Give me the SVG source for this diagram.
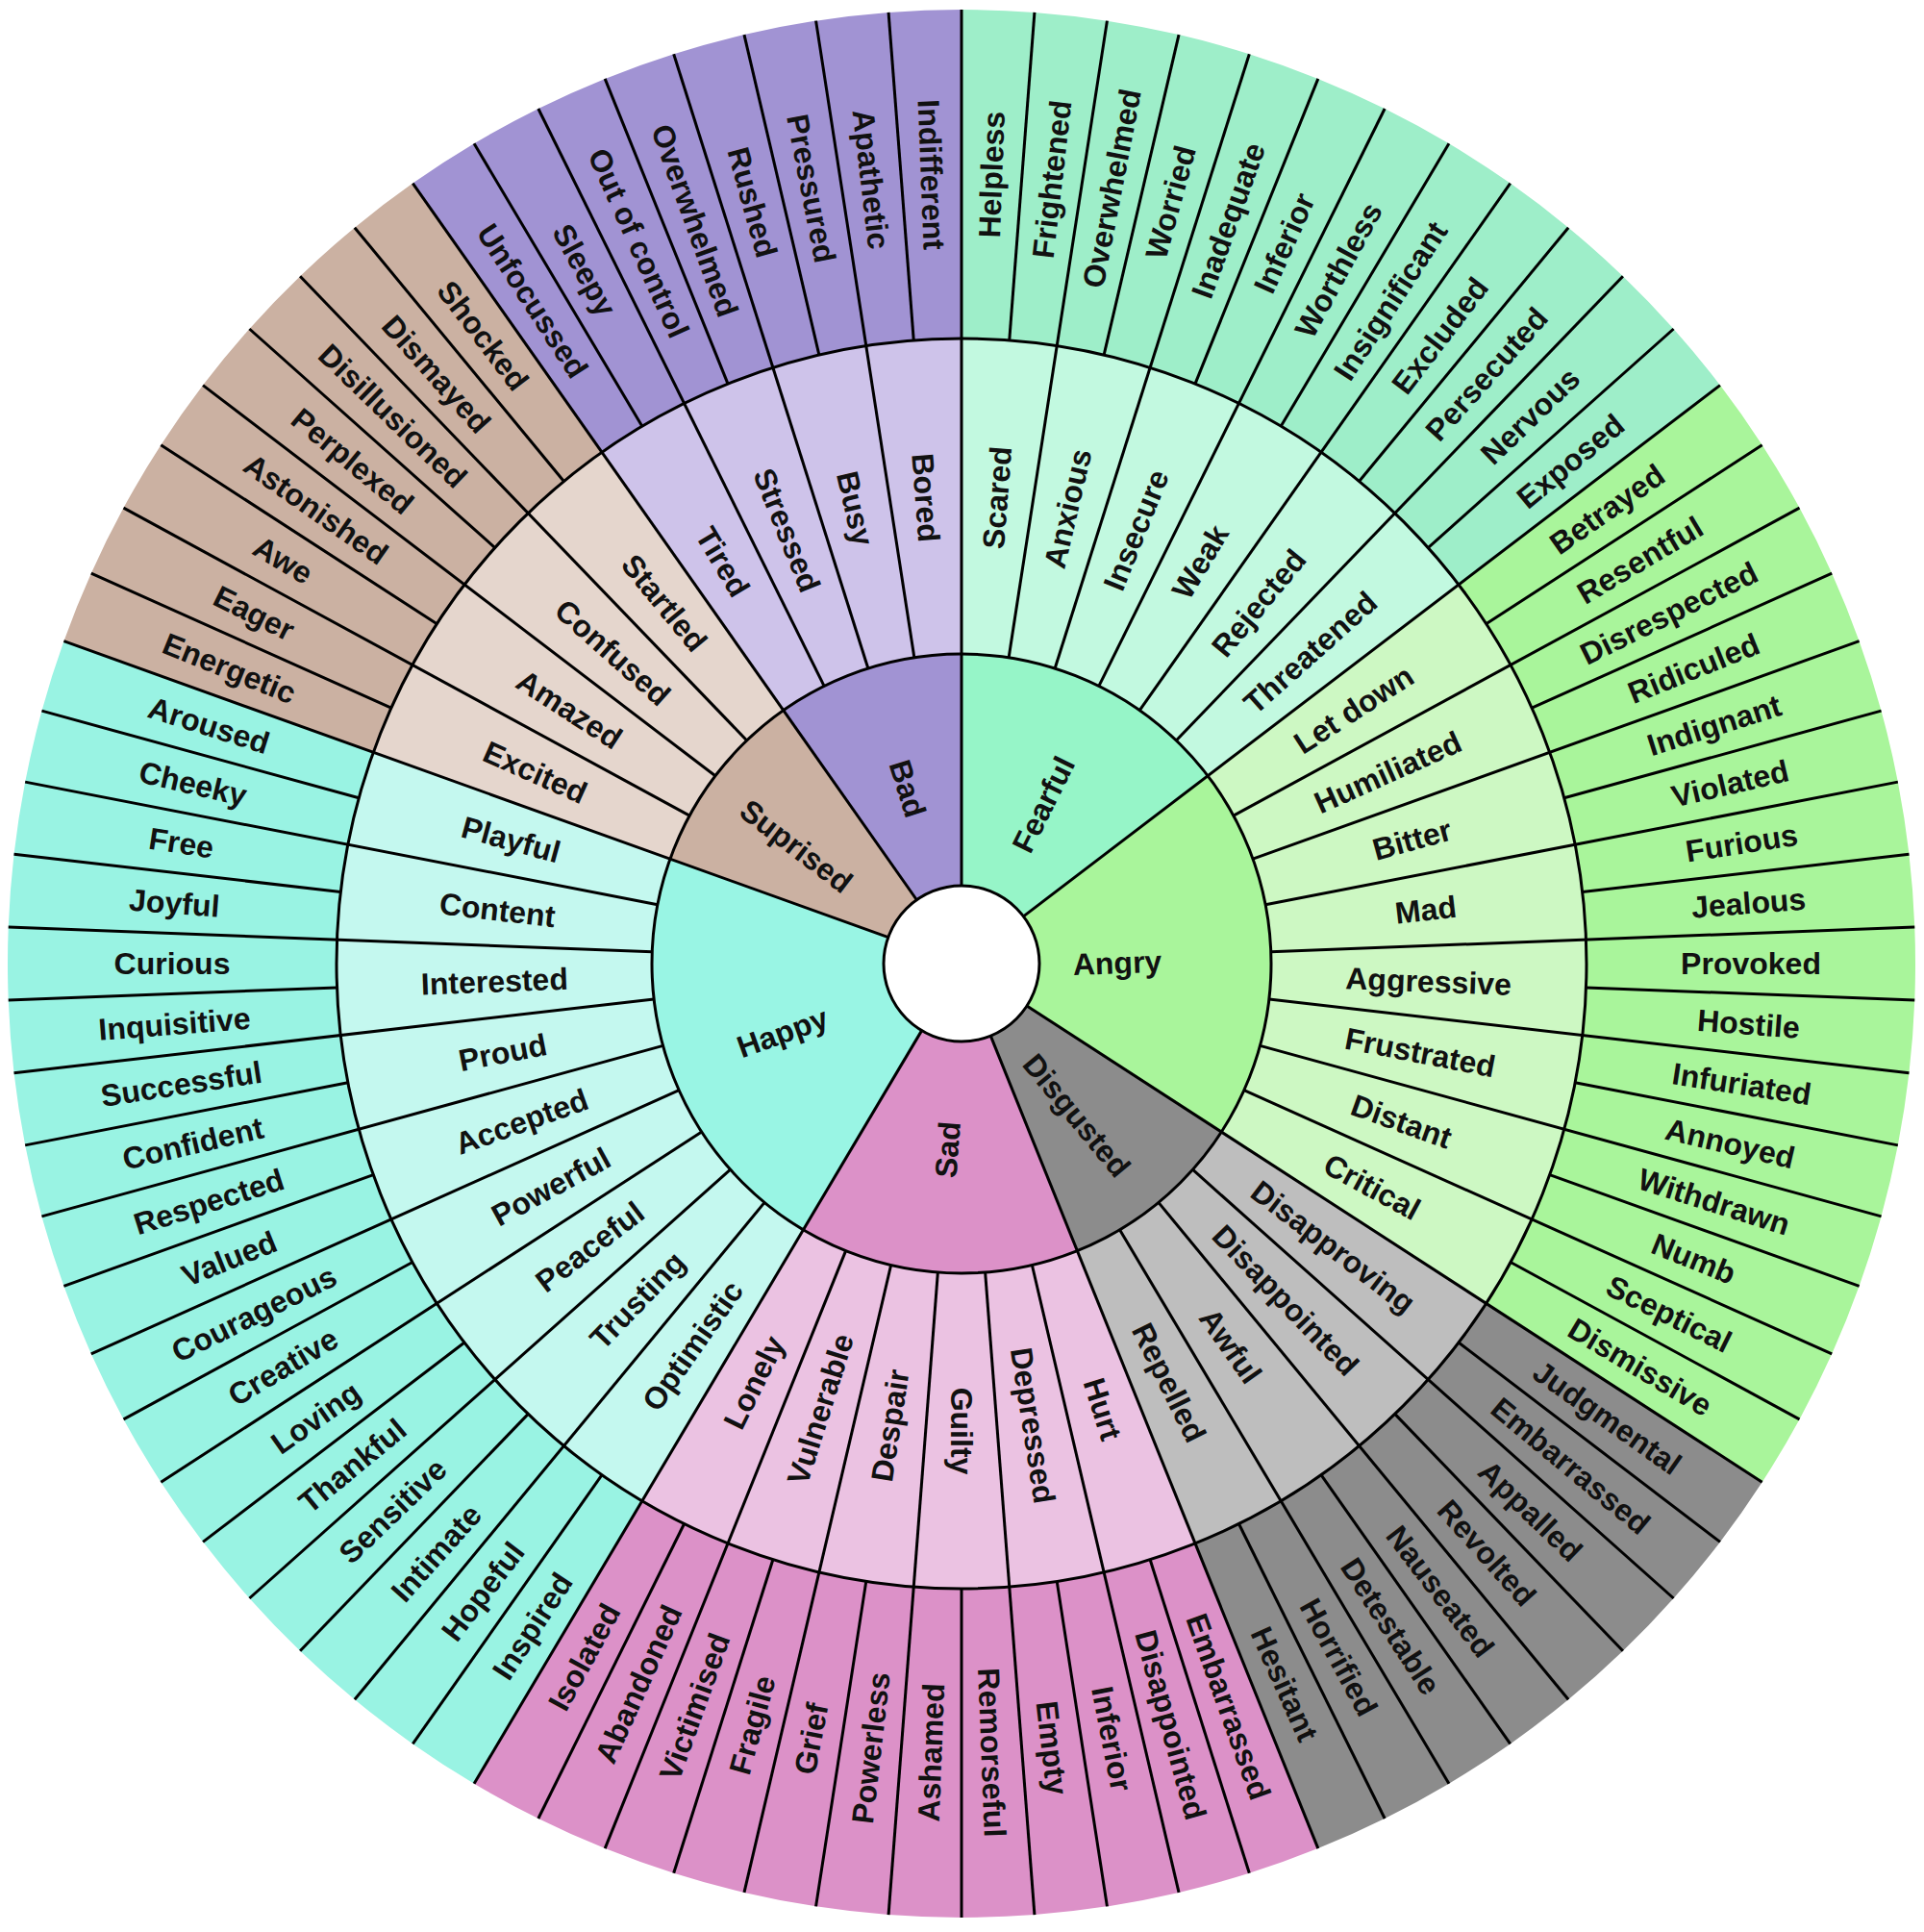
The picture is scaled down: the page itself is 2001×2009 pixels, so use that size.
<svg xmlns="http://www.w3.org/2000/svg" xmlns:xlink="http://www.w3.org/1999/xlink" width="2001" height="2009" viewBox="0 0 2001 2009">
<style>
.t{font-family:"Liberation Sans",Arial,sans-serif;font-weight:bold;font-size:32px;fill:#111;text-anchor:middle;dominant-baseline:central}
.Fc{fill:#96f5c8}.Fm{fill:#c2f9e0}.Fo{fill:#9eeec9}
.Ac{fill:#a9f59b}.Am{fill:#cdf8c3}.Ao{fill:#a9f59b}
.Dc{fill:#8c8c8c}.Dm{fill:#bebebe}.Do{fill:#8c8c8c}
.Sc{fill:#dc91c8}.Sm{fill:#ebc2e2}.So{fill:#dc91c8}
.Hc{fill:#99f5e4}.Hm{fill:#c4f8ef}.Ho{fill:#99f3e3}
.Uc{fill:#cbb1a2}.Um{fill:#e5d6cd}.Uo{fill:#cbb1a2}
.Bc{fill:#a193d3}.Bm{fill:#cec3ea}.Bo{fill:#a193d3}
</style>
<defs>
<path id="o" d="M0,-992 A992,992 0 0 1 75.94,-989.09 L49.76,-648.09 A650,650 0 0 0 0,-650Z"/>
<path id="m" d="M0,-650 A650,650 0 0 1 99.22,-642.38 L49.15,-318.23 A322,322 0 0 0 0,-322Z"/>
<path id="c8" d="M0,0 L0,-322 A322,322 0 0 1 185.25,-263.37Z"/>
<path id="c12" d="M0,0 L0,-322 A322,322 0 0 1 256.08,-195.20Z"/>
<path id="c16" d="M0,0 L0,-322 A322,322 0 0 1 303.05,-108.84Z"/>
<path id="c18" d="M0,0 L0,-322 A322,322 0 0 1 316.11,-61.31Z"/>
<line id="l1" x1="0" y1="-650" x2="0" y2="-992"/>
<line id="l2" x1="0" y1="-322" x2="0" y2="-992"/>
<line id="l3" x1="0" y1="-81" x2="0" y2="-992"/>
</defs>
<rect width="2001" height="2009" fill="#fff"/>
<g transform="translate(1000,1002)">
<g id="core">
<g id="c-fearful"><use href="#c12" class="Fc" transform="rotate(0)"/><text class="t" transform="translate(85.3,-165.4) rotate(-63.66)">Fearful</text></g>
<g id="c-angry"><use href="#c16" class="Ac" transform="rotate(52.6829)"/><text class="t" transform="translate(162,-0.7) rotate(-2.2)">Angry</text></g>
<g id="c-disgusted"><use href="#c8" class="Dc" transform="rotate(122.9268)"/><text class="t" transform="translate(119.6,157.8) rotate(50.49)">Disgusted</text></g>
<g id="c-sad"><use href="#c12" class="Sc" transform="rotate(158.0488)"/><text class="t" transform="translate(-14.3,193.5) rotate(-85.61)">Sad</text></g>
<g id="c-happy"><use href="#c18" class="Hc" transform="rotate(210.7317)"/><text class="t" transform="translate(-186.2,71.7) rotate(-19.76)">Happy</text></g>
<g id="c-surprised"><use href="#c8" class="Uc" transform="rotate(289.7561)"/><text class="t" transform="translate(-172,-122) rotate(37.32)">Suprised</text></g>
<g id="c-bad"><use href="#c8" class="Bc" transform="rotate(324.878)"/><text class="t" transform="translate(-56.2,-182) rotate(72.44)">Bad</text></g>
</g>
<g id="middle">
<g id="m-fearful-scared"><use href="#m" class="Fm" transform="rotate(0)"/><text class="t" transform="rotate(4.3902) translate(0,-486) rotate(-90)">Scared</text></g>
<g id="m-fearful-anxious"><use href="#m" class="Fm" transform="rotate(8.7805)"/><text class="t" transform="rotate(13.1707) translate(0,-486) rotate(-90)">Anxious</text></g>
<g id="m-fearful-insecure"><use href="#m" class="Fm" transform="rotate(17.561)"/><text class="t" transform="rotate(21.9512) translate(0,-486) rotate(-90)">Insecure</text></g>
<g id="m-fearful-weak"><use href="#m" class="Fm" transform="rotate(26.3415)"/><text class="t" transform="rotate(30.7317) translate(0,-486) rotate(-90)">Weak</text></g>
<g id="m-fearful-rejected"><use href="#m" class="Fm" transform="rotate(35.122)"/><text class="t" transform="rotate(39.5122) translate(0,-486) rotate(-90)">Rejected</text></g>
<g id="m-fearful-threatened"><use href="#m" class="Fm" transform="rotate(43.9024)"/><text class="t" transform="rotate(48.2927) translate(0,-486) rotate(-90)">Threatened</text></g>
<g id="m-angry-let-down"><use href="#m" class="Am" transform="rotate(52.6829)"/><text class="t" transform="rotate(57.0732) translate(0,-486) rotate(-90)">Let down</text></g>
<g id="m-angry-humiliated"><use href="#m" class="Am" transform="rotate(61.4634)"/><text class="t" transform="rotate(65.8537) translate(0,-486) rotate(-90)">Humiliated</text></g>
<g id="m-angry-bitter"><use href="#m" class="Am" transform="rotate(70.2439)"/><text class="t" transform="rotate(74.6341) translate(0,-486) rotate(-90)">Bitter</text></g>
<g id="m-angry-mad"><use href="#m" class="Am" transform="rotate(79.0244)"/><text class="t" transform="rotate(83.4146) translate(0,-486) rotate(-90)">Mad</text></g>
<g id="m-angry-aggressive"><use href="#m" class="Am" transform="rotate(87.8049)"/><text class="t" transform="rotate(92.1951) translate(0,-486) rotate(-90)">Aggressive</text></g>
<g id="m-angry-frustrated"><use href="#m" class="Am" transform="rotate(96.5854)"/><text class="t" transform="rotate(100.9756) translate(0,-486) rotate(-90)">Frustrated</text></g>
<g id="m-angry-distant"><use href="#m" class="Am" transform="rotate(105.3659)"/><text class="t" transform="rotate(109.7561) translate(0,-486) rotate(-90)">Distant</text></g>
<g id="m-angry-critical"><use href="#m" class="Am" transform="rotate(114.1463)"/><text class="t" transform="rotate(118.5366) translate(0,-486) rotate(-90)">Critical</text></g>
<g id="m-disgusted-disapproving"><use href="#m" class="Dm" transform="rotate(122.9268)"/><text class="t" transform="rotate(127.3171) translate(0,-486) rotate(-90)">Disapproving</text></g>
<g id="m-disgusted-disappointed"><use href="#m" class="Dm" transform="rotate(131.7073)"/><text class="t" transform="rotate(136.0976) translate(0,-486) rotate(-90)">Disappointed</text></g>
<g id="m-disgusted-awful"><use href="#m" class="Dm" transform="rotate(140.4878)"/><text class="t" transform="rotate(144.878) translate(0,-486) rotate(-90)">Awful</text></g>
<g id="m-disgusted-repelled"><use href="#m" class="Dm" transform="rotate(149.2683)"/><text class="t" transform="rotate(153.6585) translate(0,-486) rotate(-90)">Repelled</text></g>
<g id="m-sad-hurt"><use href="#m" class="Sm" transform="rotate(158.0488)"/><text class="t" transform="rotate(162.439) translate(0,-486) rotate(-90)">Hurt</text></g>
<g id="m-sad-depressed"><use href="#m" class="Sm" transform="rotate(166.8293)"/><text class="t" transform="rotate(171.2195) translate(0,-486) rotate(-90)">Depressed</text></g>
<g id="m-sad-guilty"><use href="#m" class="Sm" transform="rotate(175.6098)"/><text class="t" transform="rotate(180) translate(0,-486) rotate(-90)">Guilty</text></g>
<g id="m-sad-despair"><use href="#m" class="Sm" transform="rotate(184.3902)"/><text class="t" transform="rotate(188.7805) translate(0,-486) rotate(90)">Despair</text></g>
<g id="m-sad-vulnerable"><use href="#m" class="Sm" transform="rotate(193.1707)"/><text class="t" transform="rotate(197.561) translate(0,-486) rotate(90)">Vulnerable</text></g>
<g id="m-sad-lonely"><use href="#m" class="Sm" transform="rotate(201.9512)"/><text class="t" transform="rotate(206.3415) translate(0,-486) rotate(90)">Lonely</text></g>
<g id="m-happy-optimistic"><use href="#m" class="Hm" transform="rotate(210.7317)"/><text class="t" transform="rotate(215.122) translate(0,-486) rotate(90)">Optimistic</text></g>
<g id="m-happy-trusting"><use href="#m" class="Hm" transform="rotate(219.5122)"/><text class="t" transform="rotate(223.9024) translate(0,-486) rotate(90)">Trusting</text></g>
<g id="m-happy-peaceful"><use href="#m" class="Hm" transform="rotate(228.2927)"/><text class="t" transform="rotate(232.6829) translate(0,-486) rotate(90)">Peaceful</text></g>
<g id="m-happy-powerful"><use href="#m" class="Hm" transform="rotate(237.0732)"/><text class="t" transform="rotate(241.4634) translate(0,-486) rotate(90)">Powerful</text></g>
<g id="m-happy-accepted"><use href="#m" class="Hm" transform="rotate(245.8537)"/><text class="t" transform="rotate(250.2439) translate(0,-486) rotate(90)">Accepted</text></g>
<g id="m-happy-proud"><use href="#m" class="Hm" transform="rotate(254.6341)"/><text class="t" transform="rotate(259.0244) translate(0,-486) rotate(90)">Proud</text></g>
<g id="m-happy-interested"><use href="#m" class="Hm" transform="rotate(263.4146)"/><text class="t" transform="rotate(267.8049) translate(0,-486) rotate(90)">Interested</text></g>
<g id="m-happy-content"><use href="#m" class="Hm" transform="rotate(272.1951)"/><text class="t" transform="rotate(276.5854) translate(0,-486) rotate(90)">Content</text></g>
<g id="m-happy-playful"><use href="#m" class="Hm" transform="rotate(280.9756)"/><text class="t" transform="rotate(285.3659) translate(0,-486) rotate(90)">Playful</text></g>
<g id="m-surprised-excited"><use href="#m" class="Um" transform="rotate(289.7561)"/><text class="t" transform="rotate(294.1463) translate(0,-486) rotate(90)">Excited</text></g>
<g id="m-surprised-amazed"><use href="#m" class="Um" transform="rotate(298.5366)"/><text class="t" transform="rotate(302.9268) translate(0,-486) rotate(90)">Amazed</text></g>
<g id="m-surprised-confused"><use href="#m" class="Um" transform="rotate(307.3171)"/><text class="t" transform="rotate(311.7073) translate(0,-486) rotate(90)">Confused</text></g>
<g id="m-surprised-startled"><use href="#m" class="Um" transform="rotate(316.0976)"/><text class="t" transform="rotate(320.4878) translate(0,-486) rotate(90)">Startled</text></g>
<g id="m-bad-tired"><use href="#m" class="Bm" transform="rotate(324.878)"/><text class="t" transform="rotate(329.2683) translate(0,-486) rotate(90)">Tired</text></g>
<g id="m-bad-stressed"><use href="#m" class="Bm" transform="rotate(333.6585)"/><text class="t" transform="rotate(338.0488) translate(0,-486) rotate(90)">Stressed</text></g>
<g id="m-bad-busy"><use href="#m" class="Bm" transform="rotate(342.439)"/><text class="t" transform="rotate(346.8293) translate(0,-486) rotate(90)">Busy</text></g>
<g id="m-bad-bored"><use href="#m" class="Bm" transform="rotate(351.2195)"/><text class="t" transform="rotate(355.6098) translate(0,-486) rotate(90)">Bored</text></g>
</g>
<g id="outer">
<g id="o-fearful-helpless"><use href="#o" class="Fo" transform="rotate(0)"/><text class="t" transform="rotate(2.1951) translate(0,-821) rotate(-90)">Helpless</text></g>
<g id="o-fearful-frightened"><use href="#o" class="Fo" transform="rotate(4.3902)"/><text class="t" transform="rotate(6.5854) translate(0,-821) rotate(-90)">Frightened</text></g>
<g id="o-fearful-overwhelmed"><use href="#o" class="Fo" transform="rotate(8.7805)"/><text class="t" transform="rotate(10.9756) translate(0,-821) rotate(-90)">Overwhelmed</text></g>
<g id="o-fearful-worried"><use href="#o" class="Fo" transform="rotate(13.1707)"/><text class="t" transform="rotate(15.3659) translate(0,-821) rotate(-90)">Worried</text></g>
<g id="o-fearful-inadequate"><use href="#o" class="Fo" transform="rotate(17.561)"/><text class="t" transform="rotate(19.7561) translate(0,-821) rotate(-90)">Inadequate</text></g>
<g id="o-fearful-inferior"><use href="#o" class="Fo" transform="rotate(21.9512)"/><text class="t" transform="rotate(24.1463) translate(0,-821) rotate(-90)">Inferior</text></g>
<g id="o-fearful-worthless"><use href="#o" class="Fo" transform="rotate(26.3415)"/><text class="t" transform="rotate(28.5366) translate(0,-821) rotate(-90)">Worthless</text></g>
<g id="o-fearful-insignificant"><use href="#o" class="Fo" transform="rotate(30.7317)"/><text class="t" transform="rotate(32.9268) translate(0,-821) rotate(-90)">Insignificant</text></g>
<g id="o-fearful-excluded"><use href="#o" class="Fo" transform="rotate(35.122)"/><text class="t" transform="rotate(37.3171) translate(0,-821) rotate(-90)">Excluded</text></g>
<g id="o-fearful-persecuted"><use href="#o" class="Fo" transform="rotate(39.5122)"/><text class="t" transform="rotate(41.7073) translate(0,-821) rotate(-90)">Persecuted</text></g>
<g id="o-fearful-nervous"><use href="#o" class="Fo" transform="rotate(43.9024)"/><text class="t" transform="rotate(46.0976) translate(0,-821) rotate(-90)">Nervous</text></g>
<g id="o-fearful-exposed"><use href="#o" class="Fo" transform="rotate(48.2927)"/><text class="t" transform="rotate(50.4878) translate(0,-821) rotate(-90)">Exposed</text></g>
<g id="o-angry-betrayed"><use href="#o" class="Ao" transform="rotate(52.6829)"/><text class="t" transform="rotate(54.878) translate(0,-821) rotate(-90)">Betrayed</text></g>
<g id="o-angry-resentful"><use href="#o" class="Ao" transform="rotate(57.0732)"/><text class="t" transform="rotate(59.2683) translate(0,-821) rotate(-90)">Resentful</text></g>
<g id="o-angry-disrespected"><use href="#o" class="Ao" transform="rotate(61.4634)"/><text class="t" transform="rotate(63.6585) translate(0,-821) rotate(-90)">Disrespected</text></g>
<g id="o-angry-ridiculed"><use href="#o" class="Ao" transform="rotate(65.8537)"/><text class="t" transform="rotate(68.0488) translate(0,-821) rotate(-90)">Ridiculed</text></g>
<g id="o-angry-indignant"><use href="#o" class="Ao" transform="rotate(70.2439)"/><text class="t" transform="rotate(72.439) translate(0,-821) rotate(-90)">Indignant</text></g>
<g id="o-angry-violated"><use href="#o" class="Ao" transform="rotate(74.6341)"/><text class="t" transform="rotate(76.8293) translate(0,-821) rotate(-90)">Violated</text></g>
<g id="o-angry-furious"><use href="#o" class="Ao" transform="rotate(79.0244)"/><text class="t" transform="rotate(81.2195) translate(0,-821) rotate(-90)">Furious</text></g>
<g id="o-angry-jealous"><use href="#o" class="Ao" transform="rotate(83.4146)"/><text class="t" transform="rotate(85.6098) translate(0,-821) rotate(-90)">Jealous</text></g>
<g id="o-angry-provoked"><use href="#o" class="Ao" transform="rotate(87.8049)"/><text class="t" transform="rotate(90) translate(0,-821) rotate(-90)">Provoked</text></g>
<g id="o-angry-hostile"><use href="#o" class="Ao" transform="rotate(92.1951)"/><text class="t" transform="rotate(94.3902) translate(0,-821) rotate(-90)">Hostile</text></g>
<g id="o-angry-infuriated"><use href="#o" class="Ao" transform="rotate(96.5854)"/><text class="t" transform="rotate(98.7805) translate(0,-821) rotate(-90)">Infuriated</text></g>
<g id="o-angry-annoyed"><use href="#o" class="Ao" transform="rotate(100.9756)"/><text class="t" transform="rotate(103.1707) translate(0,-821) rotate(-90)">Annoyed</text></g>
<g id="o-angry-withdrawn"><use href="#o" class="Ao" transform="rotate(105.3659)"/><text class="t" transform="rotate(107.561) translate(0,-821) rotate(-90)">Withdrawn</text></g>
<g id="o-angry-numb"><use href="#o" class="Ao" transform="rotate(109.7561)"/><text class="t" transform="rotate(111.9512) translate(0,-821) rotate(-90)">Numb</text></g>
<g id="o-angry-sceptical"><use href="#o" class="Ao" transform="rotate(114.1463)"/><text class="t" transform="rotate(116.3415) translate(0,-821) rotate(-90)">Sceptical</text></g>
<g id="o-angry-dismissive"><use href="#o" class="Ao" transform="rotate(118.5366)"/><text class="t" transform="rotate(120.7317) translate(0,-821) rotate(-90)">Dismissive</text></g>
<g id="o-disgusted-judgmental"><use href="#o" class="Do" transform="rotate(122.9268)"/><text class="t" transform="rotate(125.122) translate(0,-821) rotate(-90)">Judgmental</text></g>
<g id="o-disgusted-embarrassed"><use href="#o" class="Do" transform="rotate(127.3171)"/><text class="t" transform="rotate(129.5122) translate(0,-821) rotate(-90)">Embarrassed</text></g>
<g id="o-disgusted-appalled"><use href="#o" class="Do" transform="rotate(131.7073)"/><text class="t" transform="rotate(133.9024) translate(0,-821) rotate(-90)">Appalled</text></g>
<g id="o-disgusted-revolted"><use href="#o" class="Do" transform="rotate(136.0976)"/><text class="t" transform="rotate(138.2927) translate(0,-821) rotate(-90)">Revolted</text></g>
<g id="o-disgusted-nauseated"><use href="#o" class="Do" transform="rotate(140.4878)"/><text class="t" transform="rotate(142.6829) translate(0,-821) rotate(-90)">Nauseated</text></g>
<g id="o-disgusted-detestable"><use href="#o" class="Do" transform="rotate(144.878)"/><text class="t" transform="rotate(147.0732) translate(0,-821) rotate(-90)">Detestable</text></g>
<g id="o-disgusted-horrified"><use href="#o" class="Do" transform="rotate(149.2683)"/><text class="t" transform="rotate(151.4634) translate(0,-821) rotate(-90)">Horrified</text></g>
<g id="o-disgusted-hesitant"><use href="#o" class="Do" transform="rotate(153.6585)"/><text class="t" transform="rotate(155.8537) translate(0,-821) rotate(-90)">Hesitant</text></g>
<g id="o-sad-embarrassed"><use href="#o" class="So" transform="rotate(158.0488)"/><text class="t" transform="rotate(160.2439) translate(0,-821) rotate(-90)">Embarrassed</text></g>
<g id="o-sad-disappointed"><use href="#o" class="So" transform="rotate(162.439)"/><text class="t" transform="rotate(164.6341) translate(0,-821) rotate(-90)">Disappointed</text></g>
<g id="o-sad-inferior"><use href="#o" class="So" transform="rotate(166.8293)"/><text class="t" transform="rotate(169.0244) translate(0,-821) rotate(-90)">Inferior</text></g>
<g id="o-sad-empty"><use href="#o" class="So" transform="rotate(171.2195)"/><text class="t" transform="rotate(173.4146) translate(0,-821) rotate(-90)">Empty</text></g>
<g id="o-sad-remorseful"><use href="#o" class="So" transform="rotate(175.6098)"/><text class="t" transform="rotate(177.8049) translate(0,-821) rotate(-90)">Remorseful</text></g>
<g id="o-sad-ashamed"><use href="#o" class="So" transform="rotate(180)"/><text class="t" transform="rotate(182.1951) translate(0,-821) rotate(90)">Ashamed</text></g>
<g id="o-sad-powerless"><use href="#o" class="So" transform="rotate(184.3902)"/><text class="t" transform="rotate(186.5854) translate(0,-821) rotate(90)">Powerless</text></g>
<g id="o-sad-grief"><use href="#o" class="So" transform="rotate(188.7805)"/><text class="t" transform="rotate(190.9756) translate(0,-821) rotate(90)">Grief</text></g>
<g id="o-sad-fragile"><use href="#o" class="So" transform="rotate(193.1707)"/><text class="t" transform="rotate(195.3659) translate(0,-821) rotate(90)">Fragile</text></g>
<g id="o-sad-victimised"><use href="#o" class="So" transform="rotate(197.561)"/><text class="t" transform="rotate(199.7561) translate(0,-821) rotate(90)">Victimised</text></g>
<g id="o-sad-abandoned"><use href="#o" class="So" transform="rotate(201.9512)"/><text class="t" transform="rotate(204.1463) translate(0,-821) rotate(90)">Abandoned</text></g>
<g id="o-sad-isolated"><use href="#o" class="So" transform="rotate(206.3415)"/><text class="t" transform="rotate(208.5366) translate(0,-821) rotate(90)">Isolated</text></g>
<g id="o-happy-inspired"><use href="#o" class="Ho" transform="rotate(210.7317)"/><text class="t" transform="rotate(212.9268) translate(0,-821) rotate(90)">Inspired</text></g>
<g id="o-happy-hopeful"><use href="#o" class="Ho" transform="rotate(215.122)"/><text class="t" transform="rotate(217.3171) translate(0,-821) rotate(90)">Hopeful</text></g>
<g id="o-happy-intimate"><use href="#o" class="Ho" transform="rotate(219.5122)"/><text class="t" transform="rotate(221.7073) translate(0,-821) rotate(90)">Intimate</text></g>
<g id="o-happy-sensitive"><use href="#o" class="Ho" transform="rotate(223.9024)"/><text class="t" transform="rotate(226.0976) translate(0,-821) rotate(90)">Sensitive</text></g>
<g id="o-happy-thankful"><use href="#o" class="Ho" transform="rotate(228.2927)"/><text class="t" transform="rotate(230.4878) translate(0,-821) rotate(90)">Thankful</text></g>
<g id="o-happy-loving"><use href="#o" class="Ho" transform="rotate(232.6829)"/><text class="t" transform="rotate(234.878) translate(0,-821) rotate(90)">Loving</text></g>
<g id="o-happy-creative"><use href="#o" class="Ho" transform="rotate(237.0732)"/><text class="t" transform="rotate(239.2683) translate(0,-821) rotate(90)">Creative</text></g>
<g id="o-happy-courageous"><use href="#o" class="Ho" transform="rotate(241.4634)"/><text class="t" transform="rotate(243.6585) translate(0,-821) rotate(90)">Courageous</text></g>
<g id="o-happy-valued"><use href="#o" class="Ho" transform="rotate(245.8537)"/><text class="t" transform="rotate(248.0488) translate(0,-821) rotate(90)">Valued</text></g>
<g id="o-happy-respected"><use href="#o" class="Ho" transform="rotate(250.2439)"/><text class="t" transform="rotate(252.439) translate(0,-821) rotate(90)">Respected</text></g>
<g id="o-happy-confident"><use href="#o" class="Ho" transform="rotate(254.6341)"/><text class="t" transform="rotate(256.8293) translate(0,-821) rotate(90)">Confident</text></g>
<g id="o-happy-successful"><use href="#o" class="Ho" transform="rotate(259.0244)"/><text class="t" transform="rotate(261.2195) translate(0,-821) rotate(90)">Successful</text></g>
<g id="o-happy-inquisitive"><use href="#o" class="Ho" transform="rotate(263.4146)"/><text class="t" transform="rotate(265.6098) translate(0,-821) rotate(90)">Inquisitive</text></g>
<g id="o-happy-curious"><use href="#o" class="Ho" transform="rotate(267.8049)"/><text class="t" transform="rotate(270) translate(0,-821) rotate(90)">Curious</text></g>
<g id="o-happy-joyful"><use href="#o" class="Ho" transform="rotate(272.1951)"/><text class="t" transform="rotate(274.3902) translate(0,-821) rotate(90)">Joyful</text></g>
<g id="o-happy-free"><use href="#o" class="Ho" transform="rotate(276.5854)"/><text class="t" transform="rotate(278.7805) translate(0,-821) rotate(90)">Free</text></g>
<g id="o-happy-cheeky"><use href="#o" class="Ho" transform="rotate(280.9756)"/><text class="t" transform="rotate(283.1707) translate(0,-821) rotate(90)">Cheeky</text></g>
<g id="o-happy-aroused"><use href="#o" class="Ho" transform="rotate(285.3659)"/><text class="t" transform="rotate(287.561) translate(0,-821) rotate(90)">Aroused</text></g>
<g id="o-surprised-energetic"><use href="#o" class="Uo" transform="rotate(289.7561)"/><text class="t" transform="rotate(291.9512) translate(0,-821) rotate(90)">Energetic</text></g>
<g id="o-surprised-eager"><use href="#o" class="Uo" transform="rotate(294.1463)"/><text class="t" transform="rotate(296.3415) translate(0,-821) rotate(90)">Eager</text></g>
<g id="o-surprised-awe"><use href="#o" class="Uo" transform="rotate(298.5366)"/><text class="t" transform="rotate(300.7317) translate(0,-821) rotate(90)">Awe</text></g>
<g id="o-surprised-astonished"><use href="#o" class="Uo" transform="rotate(302.9268)"/><text class="t" transform="rotate(305.122) translate(0,-821) rotate(90)">Astonished</text></g>
<g id="o-surprised-perplexed"><use href="#o" class="Uo" transform="rotate(307.3171)"/><text class="t" transform="rotate(309.5122) translate(0,-821) rotate(90)">Perplexed</text></g>
<g id="o-surprised-disillusioned"><use href="#o" class="Uo" transform="rotate(311.7073)"/><text class="t" transform="rotate(313.9024) translate(0,-821) rotate(90)">Disillusioned</text></g>
<g id="o-surprised-dismayed"><use href="#o" class="Uo" transform="rotate(316.0976)"/><text class="t" transform="rotate(318.2927) translate(0,-821) rotate(90)">Dismayed</text></g>
<g id="o-surprised-shocked"><use href="#o" class="Uo" transform="rotate(320.4878)"/><text class="t" transform="rotate(322.6829) translate(0,-821) rotate(90)">Shocked</text></g>
<g id="o-bad-unfocussed"><use href="#o" class="Bo" transform="rotate(324.878)"/><text class="t" transform="rotate(327.0732) translate(0,-821) rotate(90)">Unfocussed</text></g>
<g id="o-bad-sleepy"><use href="#o" class="Bo" transform="rotate(329.2683)"/><text class="t" transform="rotate(331.4634) translate(0,-821) rotate(90)">Sleepy</text></g>
<g id="o-bad-out-of-control"><use href="#o" class="Bo" transform="rotate(333.6585)"/><text class="t" transform="rotate(335.8537) translate(0,-821) rotate(90)">Out of control</text></g>
<g id="o-bad-overwhelmed"><use href="#o" class="Bo" transform="rotate(338.0488)"/><text class="t" transform="rotate(340.2439) translate(0,-821) rotate(90)">Overwhelmed</text></g>
<g id="o-bad-rushed"><use href="#o" class="Bo" transform="rotate(342.439)"/><text class="t" transform="rotate(344.6341) translate(0,-821) rotate(90)">Rushed</text></g>
<g id="o-bad-pressured"><use href="#o" class="Bo" transform="rotate(346.8293)"/><text class="t" transform="rotate(349.0244) translate(0,-821) rotate(90)">Pressured</text></g>
<g id="o-bad-apathetic"><use href="#o" class="Bo" transform="rotate(351.2195)"/><text class="t" transform="rotate(353.4146) translate(0,-821) rotate(90)">Apathetic</text></g>
<g id="o-bad-indifferent"><use href="#o" class="Bo" transform="rotate(355.6098)"/><text class="t" transform="rotate(357.8049) translate(0,-821) rotate(90)">Indifferent</text></g>
</g>
<g id="connectors" stroke="#000" stroke-width="3" fill="none">
<use href="#l3" transform="rotate(0)"/><use href="#l1" transform="rotate(4.3902)"/><use href="#l2" transform="rotate(8.7805)"/><use href="#l1" transform="rotate(13.1707)"/><use href="#l2" transform="rotate(17.561)"/><use href="#l1" transform="rotate(21.9512)"/><use href="#l2" transform="rotate(26.3415)"/><use href="#l1" transform="rotate(30.7317)"/><use href="#l2" transform="rotate(35.122)"/><use href="#l1" transform="rotate(39.5122)"/><use href="#l2" transform="rotate(43.9024)"/><use href="#l1" transform="rotate(48.2927)"/>
<use href="#l3" transform="rotate(52.6829)"/><use href="#l1" transform="rotate(57.0732)"/><use href="#l2" transform="rotate(61.4634)"/><use href="#l1" transform="rotate(65.8537)"/><use href="#l2" transform="rotate(70.2439)"/><use href="#l1" transform="rotate(74.6341)"/><use href="#l2" transform="rotate(79.0244)"/><use href="#l1" transform="rotate(83.4146)"/><use href="#l2" transform="rotate(87.8049)"/><use href="#l1" transform="rotate(92.1951)"/><use href="#l2" transform="rotate(96.5854)"/><use href="#l1" transform="rotate(100.9756)"/><use href="#l2" transform="rotate(105.3659)"/><use href="#l1" transform="rotate(109.7561)"/><use href="#l2" transform="rotate(114.1463)"/><use href="#l1" transform="rotate(118.5366)"/>
<use href="#l3" transform="rotate(122.9268)"/><use href="#l1" transform="rotate(127.3171)"/><use href="#l2" transform="rotate(131.7073)"/><use href="#l1" transform="rotate(136.0976)"/><use href="#l2" transform="rotate(140.4878)"/><use href="#l1" transform="rotate(144.878)"/><use href="#l2" transform="rotate(149.2683)"/><use href="#l1" transform="rotate(153.6585)"/>
<use href="#l3" transform="rotate(158.0488)"/><use href="#l1" transform="rotate(162.439)"/><use href="#l2" transform="rotate(166.8293)"/><use href="#l1" transform="rotate(171.2195)"/><use href="#l2" transform="rotate(175.6098)"/><use href="#l1" transform="rotate(180)"/><use href="#l2" transform="rotate(184.3902)"/><use href="#l1" transform="rotate(188.7805)"/><use href="#l2" transform="rotate(193.1707)"/><use href="#l1" transform="rotate(197.561)"/><use href="#l2" transform="rotate(201.9512)"/><use href="#l1" transform="rotate(206.3415)"/>
<use href="#l3" transform="rotate(210.7317)"/><use href="#l1" transform="rotate(215.122)"/><use href="#l2" transform="rotate(219.5122)"/><use href="#l1" transform="rotate(223.9024)"/><use href="#l2" transform="rotate(228.2927)"/><use href="#l1" transform="rotate(232.6829)"/><use href="#l2" transform="rotate(237.0732)"/><use href="#l1" transform="rotate(241.4634)"/><use href="#l2" transform="rotate(245.8537)"/><use href="#l1" transform="rotate(250.2439)"/><use href="#l2" transform="rotate(254.6341)"/><use href="#l1" transform="rotate(259.0244)"/><use href="#l2" transform="rotate(263.4146)"/><use href="#l1" transform="rotate(267.8049)"/><use href="#l2" transform="rotate(272.1951)"/><use href="#l1" transform="rotate(276.5854)"/><use href="#l2" transform="rotate(280.9756)"/><use href="#l1" transform="rotate(285.3659)"/>
<use href="#l3" transform="rotate(289.7561)"/><use href="#l1" transform="rotate(294.1463)"/><use href="#l2" transform="rotate(298.5366)"/><use href="#l1" transform="rotate(302.9268)"/><use href="#l2" transform="rotate(307.3171)"/><use href="#l1" transform="rotate(311.7073)"/><use href="#l2" transform="rotate(316.0976)"/><use href="#l1" transform="rotate(320.4878)"/>
<use href="#l3" transform="rotate(324.878)"/><use href="#l1" transform="rotate(329.2683)"/><use href="#l2" transform="rotate(333.6585)"/><use href="#l1" transform="rotate(338.0488)"/><use href="#l2" transform="rotate(342.439)"/><use href="#l1" transform="rotate(346.8293)"/><use href="#l2" transform="rotate(351.2195)"/><use href="#l1" transform="rotate(355.6098)"/>
<circle r="650"/>
<circle r="322"/>
<circle r="81" fill="#fff"/>
</g>
</g>
</svg>
